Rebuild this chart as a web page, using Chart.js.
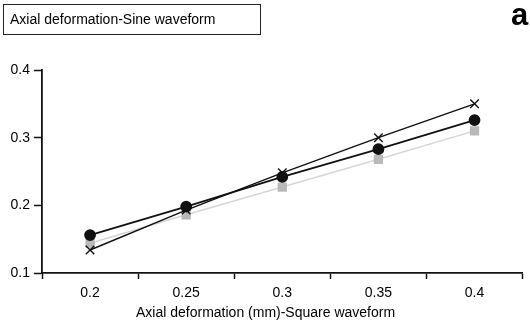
<!DOCTYPE html>
<html>
<head>
<meta charset="utf-8">
<script src="https://cdn.jsdelivr.net/npm/chart.js@4"></script>
<style>
  body { margin: 0; background: #fff; font-family: "Liberation Sans", Arial, sans-serif; }
  #wrap { position: relative; width: 530px; height: 327px; }
  #box { position: absolute; left: 3px; top: 4px; width: 250px; height: 29px; border: 1.5px solid #222;
         font-size: 14px; line-height: 29px; padding-left: 6px; box-sizing: content-box; color: #000; }
  #letter { position: absolute; left: 511px; top: -3px; font-size: 31px; font-weight: bold; color: #000; }
  #xtitle { position: absolute; left: 136px; top: 304px; font-size: 14px; color: #000; white-space: nowrap; }
</style>
</head>
<body>
<div id="wrap">
  <canvas id="myChart" width="530" height="327"></canvas>
  <div id="box">Axial deformation-Sine waveform</div>
  <div id="letter">a</div>
  <div id="xtitle">Axial deformation (mm)-Square waveform</div>
</div>
<script>
// valores
const labels = ['0.2', '0.25', '0.3', '0.35', '0.4'];
const circleSeries = [0.156, 0.198, 0.242, 0.283, 0.326];
const crossSeries = [0.134, 0.193, 0.248, 0.300, 0.350];
const squareSeries = [0.144, 0.186, 0.227, 0.268, 0.310];
const yTicks = [0.1, 0.2, 0.3, 0.4];

var ctx = document.getElementById('myChart').getContext('2d');

var config = {
  type: 'line',
  data: {
    labels: labels,
    datasets: [{
      data: circleSeries,
      borderColor: '#111',
      backgroundColor: '#111',
      borderWidth: 1.8,
      pointStyle: 'circle',
      pointRadius: 5,
      tension: 0
    }, {
      data: crossSeries,
      borderColor: '#111',
      backgroundColor: '#111',
      borderWidth: 1.4,
      pointStyle: 'crossRot',
      pointRadius: 6,
      pointBorderWidth: 1.4,
      tension: 0
    }, {
      data: squareSeries,
      borderColor: '#d6d6d6',
      backgroundColor: '#b9b9b9',
      pointBorderColor: '#b9b9b9',
      borderWidth: 1.5,
      pointStyle: 'rect',
      pointRadius: 5.5,
      tension: 0
    }]
  },
  options: {
    responsive: false,
    animation: false,
    layout: { padding: { top: 70, right: 0, left: 0, bottom: 0 } },
    plugins: { legend: { display: false }, tooltip: { enabled: false } },
    scales: {
      x: {
        offset: true,
        grid: {
          offset: true,
          drawOnChartArea: false,
          tickLength: 6,
          tickWidth: 1.5,
          tickColor: c => (c.index === labels.length ? 'rgba(0,0,0,0)' : '#111')
        },
        border: { color: '#111', width: 1.8 },
        ticks: { color: '#000', font: { family: 'Liberation Sans', size: 14 }, padding: 6 },
        afterFit: function(scale) { scale.height = 54; }
      },
      y: {
        min: 0.1,
        max: 0.4,
        afterBuildTicks: function(scale) { scale.ticks = yTicks.map(v => ({ value: v })); },
        grid: { drawOnChartArea: false, tickLength: 8, tickWidth: 1.5, color: '#111' },
        border: { color: '#111', width: 1.8 },
        ticks: {
          color: '#000',
          font: { family: 'Liberation Sans', size: 14 },
          padding: 4,
          callback: v => v.toFixed(1)
        },
        afterFit: function(scale) { scale.width = 42; }
      }
    }
  }
};

//CRIA O GRÁFICO
var chart = new Chart(ctx, config);
</script>
</body>
</html>
